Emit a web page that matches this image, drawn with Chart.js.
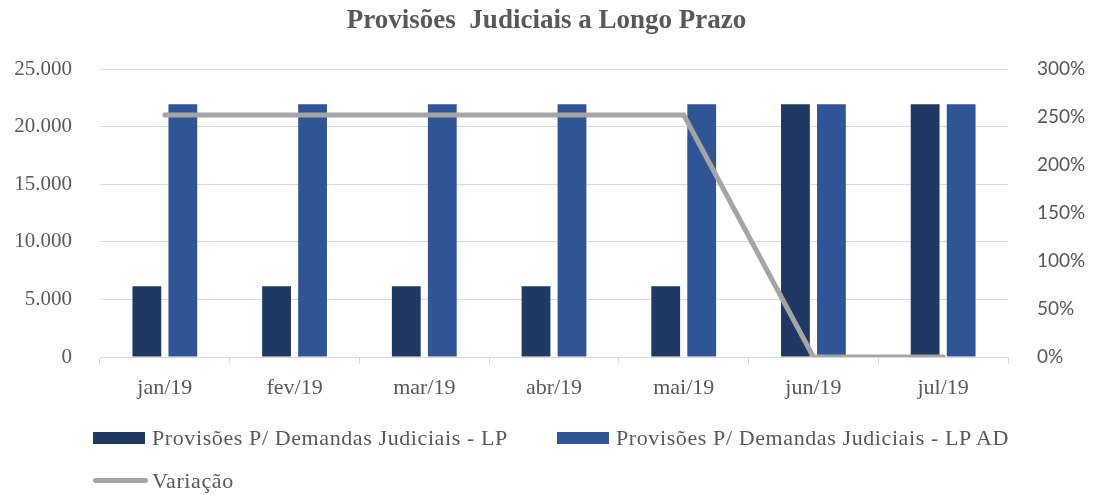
<!DOCTYPE html>
<html>
<head>
<meta charset="utf-8">
<script src="https://cdn.jsdelivr.net/npm/chart.js@4.4.1/dist/chart.umd.min.js"></script>
<style>
    html, body { margin: 0; padding: 0; background: #fff; }
    .wrap { position: relative; width: 1093px; height: 495px; }
    #chart { position: absolute; left: 0; top: 0; }
    #legend {
        position: absolute; left: 93px; top: 416px;
        display: grid; grid-template-columns: 464px auto; grid-auto-rows: 43px;
        color: #595959;
    }
    .legend-item { display: flex; align-items: center; white-space: nowrap; }
    .legend-text { font-family: 'Liberation Serif', 'Times New Roman', serif; font-size: 22px; letter-spacing: 0.6px; }
    .legend-box { width: 52px; height: 12px; margin-right: 7px; }
    .legend-line { width: 55px; height: 5px; border-radius: 3px; margin-right: 4px; }
</style>
</head>
<body>
<div class="wrap">
    <canvas id="chart" width="1093" height="495"></canvas>
    <div id="legend"></div>
</div>
<script>
// Valores
const categories = ['jan/19', 'fev/19', 'mar/19', 'abr/19', 'mai/19', 'jun/19', 'jul/19'];
const provisoesLP = [6150, 6150, 6150, 6150, 6150, 21950, 21950];
const provisoesLPAD = [21950, 21950, 21950, 21950, 21950, 21950, 21950];
const variacao = [252, 252, 252, 252, 252, 0, 0];
const leftTicks = [0, 5000, 10000, 15000, 20000, 25000];
const rightTicks = [0, 50, 100, 150, 200, 250, 300];

const textColor = '#595959';
const gridColor = '#d9d9d9';
const serif = "'Liberation Serif', 'Times New Roman', serif";

function formatThousands(v) {
    return String(v).replace(/\B(?=(\d{3})+(?!\d))/g, '.');
}

// Legend built in HTML so the spacing can match the original
const htmlLegend = {
    id: 'htmlLegend',
    afterUpdate(chart) {
        const box = document.getElementById('legend');
        box.innerHTML = '';
        const items = chart.options.plugins.legend.labels.generateLabels(chart)
            .sort((a, b) => a.datasetIndex - b.datasetIndex);
        items.forEach(item => {
            const ds = chart.data.datasets[item.datasetIndex];
            const div = document.createElement('div');
            div.className = 'legend-item';
            const mark = document.createElement('span');
            if (ds.type === 'line') {
                mark.className = 'legend-line';
                mark.style.background = ds.borderColor;
            } else {
                mark.className = 'legend-box';
                mark.style.background = ds.backgroundColor;
            }
            const txt = document.createElement('span');
            txt.className = 'legend-text';
            txt.textContent = item.text;
            div.appendChild(mark);
            div.appendChild(txt);
            box.appendChild(div);
        });
    }
};

const ctx = document.getElementById('chart').getContext('2d');
new Chart(ctx, {
    data: {
        labels: categories,
        datasets: [
            {
                type: 'bar',
                label: 'Provisões P/ Demandas Judiciais - LP',
                data: provisoesLP,
                backgroundColor: '#203864',
                yAxisID: 'y',
                order: 2
            },
            {
                type: 'bar',
                label: 'Provisões P/ Demandas Judiciais - LP AD',
                data: provisoesLPAD,
                backgroundColor: '#2f5597',
                yAxisID: 'y',
                order: 2
            },
            {
                type: 'line',
                label: 'Variação',
                data: variacao,
                borderColor: '#a5a5a5',
                backgroundColor: '#a5a5a5',
                borderWidth: 5,
                borderCapStyle: 'round',
                borderJoinStyle: 'miter',
                pointRadius: 0,
                tension: 0,
                yAxisID: 'y1',
                order: 1
            }
        ]
    },
    options: {
        responsive: false,
        animation: false,
        layout: { padding: { left: 0, right: 0, top: 0, bottom: 78 } },
        datasets: {
            bar: { categoryPercentage: 0.555, barPercentage: 0.8 }
        },
        plugins: {
            legend: { display: false },
            tooltip: { enabled: false },
            title: {
                display: true,
                text: 'Provisões  Judiciais a Longo Prazo',
                color: textColor,
                font: { family: serif, size: 27, weight: 'bold' },
                padding: { top: 5, bottom: 31.6 }
            }
        },
        scales: {
            x: {
                grid: { display: true, drawOnChartArea: false, color: gridColor, tickLength: 7, offset: true },
                border: { color: gridColor },
                ticks: { color: textColor, font: { family: serif, size: 22 }, padding: 11 },
                afterFit(scale) { scale.height = 60; }
            },
            y: {
                position: 'left',
                min: 0,
                max: 25000,
                afterBuildTicks(scale) { scale.ticks = leftTicks.map(v => ({ value: v })); },
                grid: { color: gridColor, drawTicks: false },
                border: { display: false },
                ticks: {
                    color: textColor,
                    font: { family: serif, size: 21 },
                    padding: 28,
                    callback: v => formatThousands(v)
                },
                afterFit(scale) { scale.width = 100; }
            },
            y1: {
                position: 'right',
                min: 0,
                max: 300,
                afterBuildTicks(scale) { scale.ticks = rightTicks.map(v => ({ value: v })); },
                grid: { display: false, drawTicks: false },
                border: { display: false },
                ticks: {
                    color: textColor,
                    font: { family: 'Lato, "Open Sans", sans-serif', size: 19 },
                    padding: 29,
                    callback: v => v + '%'
                },
                afterFit(scale) { scale.width = 85; }
            }
        }
    },
    plugins: [htmlLegend]
});
</script>
</body>
</html>
